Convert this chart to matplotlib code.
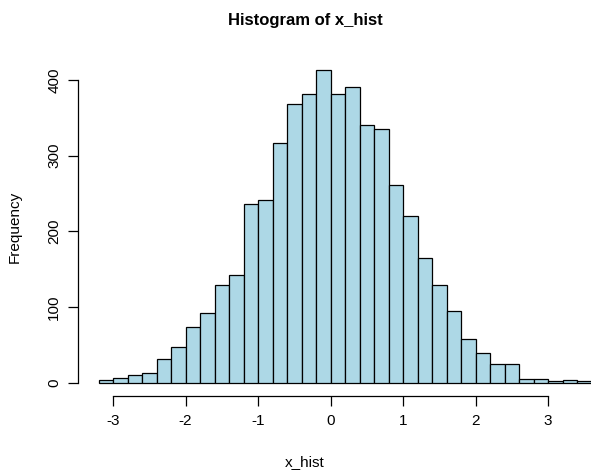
import numpy as np
import matplotlib
matplotlib.use("Agg")
import matplotlib.pyplot as plt

plt.rcParams["font.family"] = ["Liberation Sans", "DejaVu Sans"]

# histogram of x_hist: bins of width 0.2 starting at -3.2
bin_width = 0.2
bin_start = -3.2
counts = [4, 6, 11, 13, 32, 48, 74, 92, 129, 143,
          236, 242, 317, 368, 382, 413, 381, 391, 340, 335,
          261, 221, 165, 129, 95, 58, 39, 25, 25, 5,
          5, 2, 4, 2]
x_ticks = [-3, -2, -1, 0, 1, 2, 3]
y_ticks = [0, 100, 200, 300, 400]

edges = bin_start + bin_width * np.arange(len(counts))

W, H = 591, 471
fig = plt.figure(figsize=(W / 100, H / 100), dpi=100)

# plot region in pixels
left, right, top, bottom = 78, 591, 57.6, 395.5
ax = fig.add_axes([left / W, 1 - bottom / H, (right - left) / W, (bottom - top) / H])

ax.bar(edges, counts, width=bin_width, align="edge",
       color="#ADD8E6", edgecolor="black", linewidth=0.9)

ax.set_xlim(-3.483, 3.593)
ax.set_ylim(-16.5, 429.5)

for s in ["top", "right"]:
    ax.spines[s].set_visible(False)
ax.spines["left"].set_bounds(0, 400)
ax.spines["bottom"].set_bounds(-3, 3)
ax.spines["left"].set_linewidth(0.9)
ax.spines["bottom"].set_linewidth(0.9)

ax.set_xticks(x_ticks)
ax.set_xticklabels([str(v) for v in x_ticks], fontsize=11)
ax.set_yticks(y_ticks)
ax.set_yticklabels([str(v) for v in y_ticks], fontsize=11, rotation=90, va="center")
ax.tick_params(axis="both", length=7, width=0.9, pad=5)
ax.tick_params(axis="x", pad=6)

fig.text(305 / W, 1 - 20 / H, "Histogram of x_hist", ha="center", va="center",
         fontsize=12, fontweight="bold")
fig.text(305 / W, 1 - 462 / H, "x_hist", ha="center", va="center", fontsize=11)
fig.text(15 / W, 1 - 227 / H, "Frequency", ha="center", va="center",
         rotation=90, fontsize=11)

fig.savefig("out.png", dpi=100)
